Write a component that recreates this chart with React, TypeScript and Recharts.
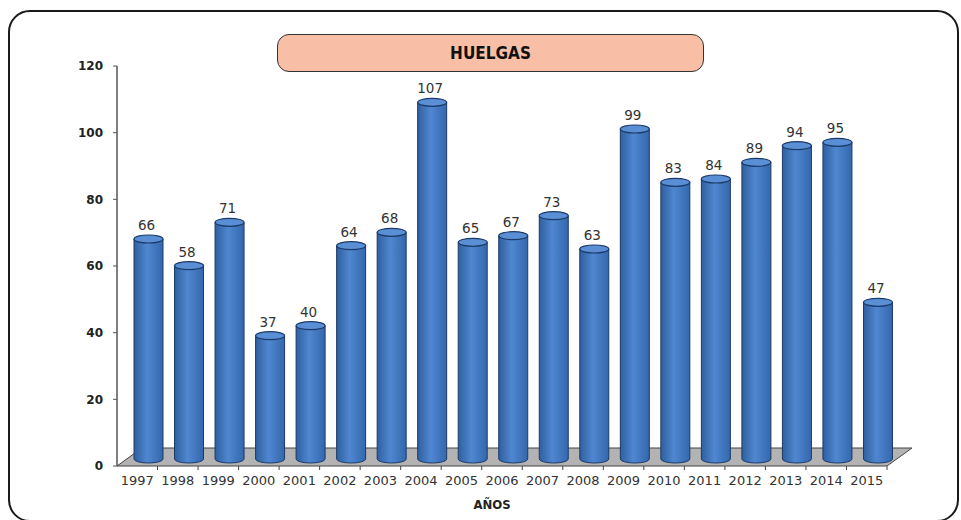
import { BarChart, Bar, XAxis, YAxis, ReferenceLine } from "recharts";

const years = [
  "1997", "1998", "1999", "2000", "2001", "2002", "2003", "2004", "2005", "2006",
  "2007", "2008", "2009", "2010", "2011", "2012", "2013", "2014", "2015",
];
const strikes = [66, 58, 71, 37, 40, 64, 68, 107, 65, 67, 73, 63, 99, 83, 84, 89, 94, 95, 47];
const yTicks = [0, 20, 40, 60, 80, 100, 120];

const data = years.map((year, i) => ({ year, strikes: strikes[i] }));

// depth of the 3d floor, cylinders sit in the middle of it
const FLOOR_DX = 25;
const FLOOR_DY = 18;
const CYL_DX = 11;
const CYL_DY = 7;

const Cylinder = (props: any) => {
  const { x, y, width, height, value } = props;
  const rx = width / 2;
  const ry = 4;
  const cx = x + rx + CYL_DX;
  const top = y - CYL_DY;
  const bottom = y + height - CYL_DY;
  return (
    <g>
      <path
        d={`M${cx - rx},${top} L${cx - rx},${bottom} A${rx},${ry} 0 0 0 ${cx + rx},${bottom} L${cx + rx},${top} Z`}
        fill="url(#cylBody)"
        stroke="#1c3a66"
        strokeWidth={1}
      />
      <ellipse cx={cx} cy={top} rx={rx} ry={ry} fill="#5a8fd6" stroke="#1c3a66" strokeWidth={1.2} />
      <text
        x={cx - 2}
        y={top - 9}
        textAnchor="middle"
        fontSize={13.5}
        fill="#333"
        fontFamily="DejaVu Sans, sans-serif"
      >
        {value}
      </text>
    </g>
  );
};

const Floor = (props: any) => {
  const { x1, y1, x2 } = props;
  const step = (x2 - x1) / years.length;
  return (
    <g>
      <path
        d={`M${x1},${y1} L${x1 + FLOOR_DX},${y1 - FLOOR_DY} L${x2 + FLOOR_DX},${y1 - FLOOR_DY} L${x2},${y1} Z`}
        fill="#b3b3b3"
        stroke="#444"
        strokeWidth={1}
      />
      {years.map((_, i) => (
        <line key={i} x1={x1 + step * (i + 1)} y1={y1} x2={x1 + step * (i + 1)} y2={y1 + 4} stroke="#444" />
      ))}
    </g>
  );
};

export default function App() {
  return (
    <div style={{ position: "absolute", left: 0, top: 0, width: 961, height: 520, background: "#fff" }}>
      <svg width={0} height={0} style={{ position: "absolute" }}>
        <defs>
          <linearGradient id="cylBody" x1="0" y1="0" x2="1" y2="0">
            <stop offset="0%" stopColor="#2f5f9f" />
            <stop offset="45%" stopColor="#4f87d0" />
            <stop offset="100%" stopColor="#3467ad" />
          </linearGradient>
        </defs>
      </svg>
      <div
        style={{
          position: "absolute",
          left: 8,
          top: 10,
          width: 951,
          height: 512,
          boxSizing: "border-box",
          border: "2px solid #1a1a1a",
          borderRadius: 22,
        }}
      />
      <div
        style={{
          position: "absolute",
          left: 277,
          top: 34,
          width: 427,
          height: 38,
          boxSizing: "border-box",
          background: "#f9bfa6",
          border: "1.5px solid #333",
          borderRadius: 12,
          display: "flex",
          alignItems: "center",
          justifyContent: "center",
          fontFamily: "'DejaVu Sans Condensed', 'DejaVu Sans', sans-serif",
          fontStretch: "condensed",
          fontWeight: "bold",
          fontSize: 17,
          color: "#111",
        }}
      >
        HUELGAS
      </div>
      <div style={{ position: "absolute", left: 0, top: 0 }}>
        <BarChart width={961} height={520} data={data} margin={{ top: 66, right: 74, left: 57, bottom: 24 }}>
          <ReferenceLine y={0} shape={Floor} zIndex={-50} />
          <XAxis
            dataKey="year"
            height={30}
            axisLine={false}
            tickLine={false}
            tickSize={6}
            tickMargin={4}
            tick={{ fontSize: 13, fill: "#333", fontFamily: "DejaVu Sans, sans-serif" }}
            label={{
              value: "AÑOS",
              position: "bottom",
              offset: 4,
              dx: -10,
              style: {
                fontSize: 13,
                fontWeight: "bold",
                fill: "#222",
                fontFamily: "'DejaVu Sans Condensed', 'DejaVu Sans', sans-serif",
              },
            }}
          />
          <YAxis
            width={60}
            domain={[0, 120]}
            ticks={yTicks}
            axisLine={{ stroke: "#555", strokeWidth: 1.5 }}
            tickLine={{ stroke: "#555" }}
            tickSize={4}
            tickMargin={10}
            tick={{ fontSize: 12, fontWeight: "bold", fill: "#222", fontFamily: "DejaVu Sans, sans-serif" }}
          />
          <Bar dataKey="strikes" barSize={29} shape={Cylinder} isAnimationActive={false} />
        </BarChart>
      </div>
    </div>
  );
}
